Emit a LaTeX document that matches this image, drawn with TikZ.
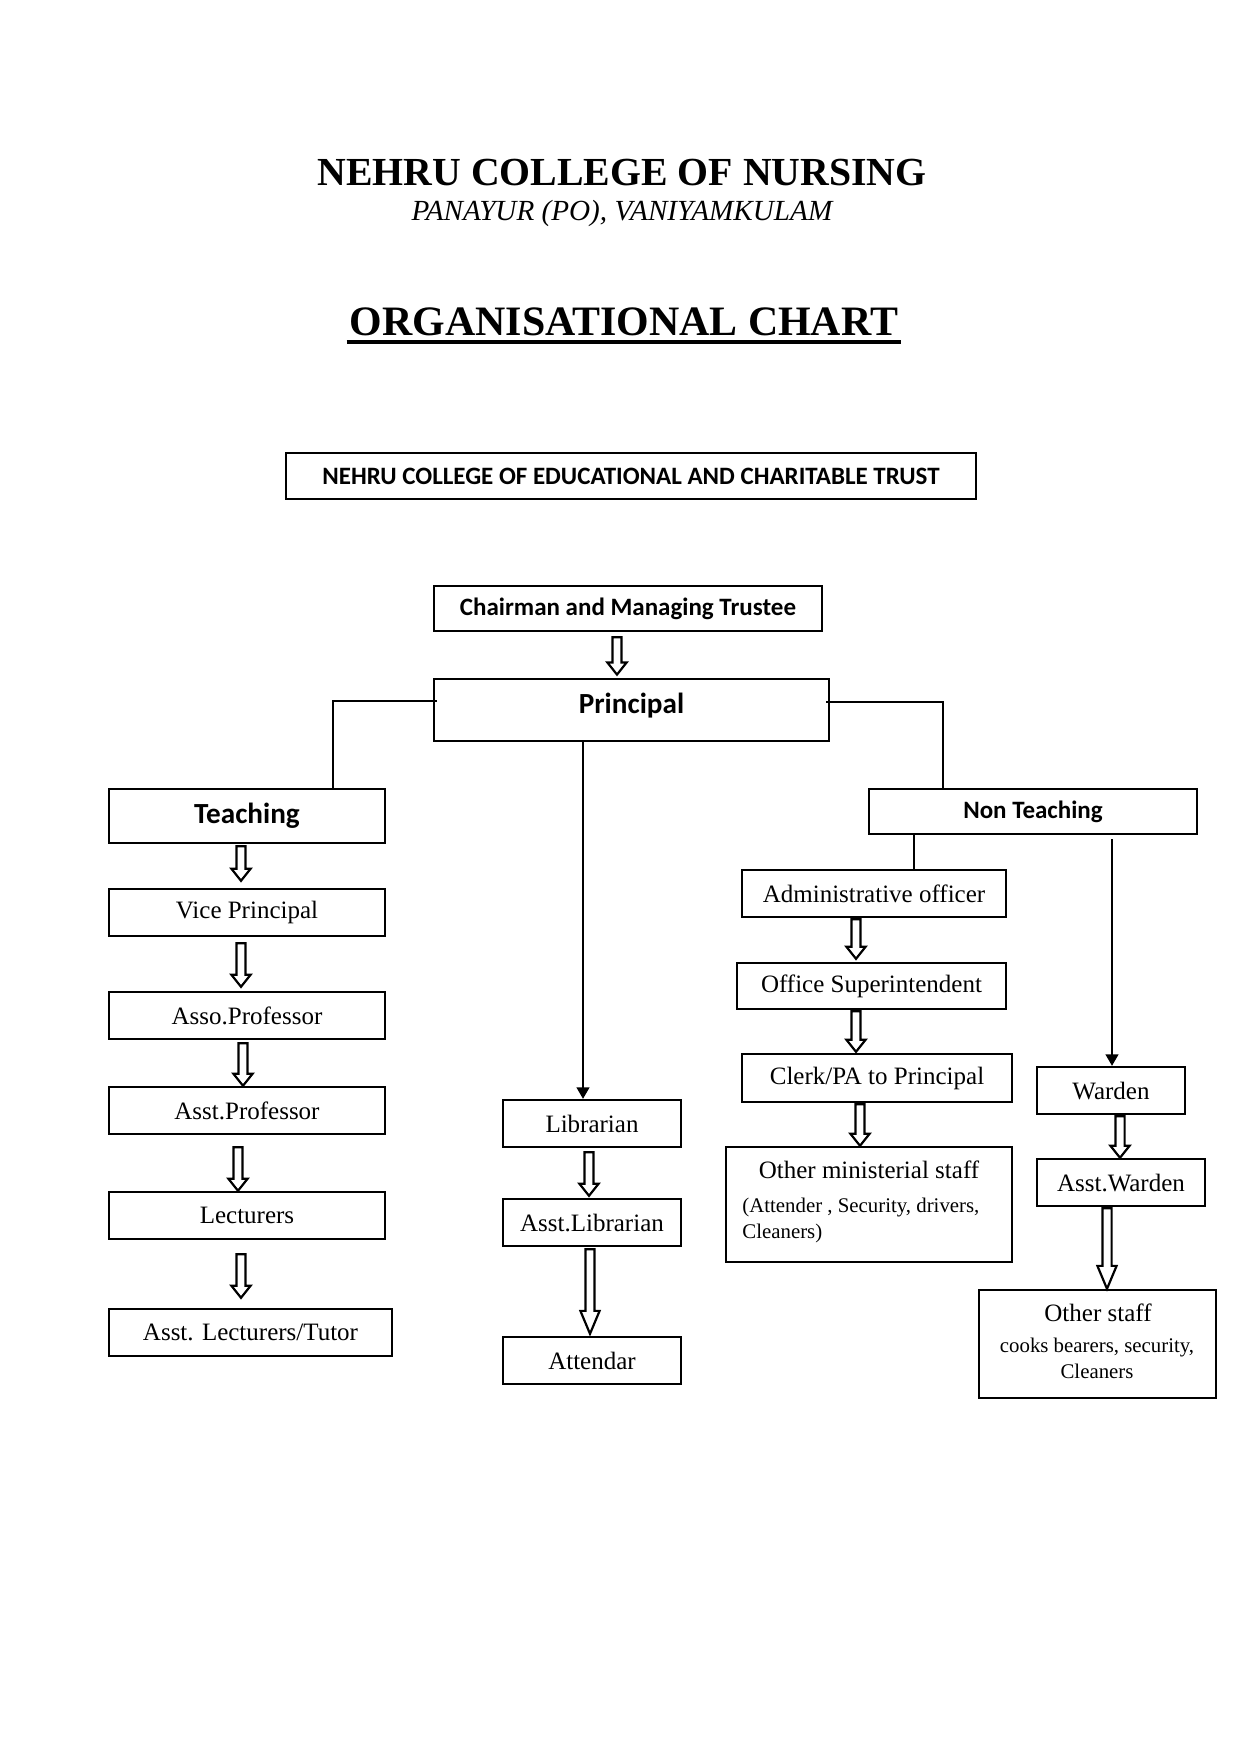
\documentclass[tikz,border=0pt]{standalone}
\usepackage{fontspec}
\setmainfont{Liberation Serif}
\newfontfamily\calib{Carlito}
\usetikzlibrary{calc,arrows.meta}
\newcommand\pxu{0.48pt}
% hollow block arrow: from, to, dx, top gap, bottom gap, head length (pt)
\newcommand\harrow[6]{%
  \draw[harr] let \p1=($(#1.south)+(#3,#4)$), \p2=($(#2.north)+(#3,-#5)$) in
    (\x1-2.2pt,\y1) -- (\x1-2.2pt,\y2+#6) -- (\x1-4.6pt,\y2+#6) -- (\x1,\y2)
    -- (\x1+4.6pt,\y2+#6) -- (\x1+2.2pt,\y2+#6) -- (\x1+2.2pt,\y1) -- cycle;}
\begin{document}
\begin{tikzpicture}[x=0.48pt,y=-0.48pt,
  box/.style={draw, line width=1.15pt, inner sep=0pt},
  sz/.style 2 args={minimum width=#1*\pxu, minimum height=#2*\pxu},
  ser/.style={font=\fontsize{12}{14}\selectfont},
  sers/.style={font=\fontsize{10}{12}\selectfont, inner sep=0pt},
  cal/.style={font=\calib\bfseries\fontsize{12}{14}\selectfont},
  calbig/.style={font=\calib\bfseries\fontsize{14}{16}\selectfont},
  harr/.style={draw, line width=1.05pt, fill=white, line join=miter},
  conn/.style={line width=1.1pt},
  thin/.style={line width=0.65pt, -{Triangle[length=5.5pt,width=6.2pt]}},
  ttl/.style={inner sep=0pt, anchor=base}]
\useasboundingbox (0,0) rectangle (1240,1754);

% titles
\node[ttl, font=\bfseries\fontsize{19.1}{22}\selectfont] (title) at (622,185) {NEHRU COLLEGE OF NURSING};
\node[ttl, font=\itshape\fontsize{14}{16}\selectfont] (sub) at (622,220) {PANAYUR (PO), VANIYAMKULAM};
\node[ttl, font=\bfseries\fontsize{20.1}{22}\selectfont] (org) at (624,335) {ORGANISATIONAL CHART};
\draw[line width=1.7pt] ($(org.base west)+(-3,7)$) -- ($(org.base east)+(3,7)$);

% boxes
\node[box, cal, sz={690}{46}] (trust) at (631,476) {NEHRU COLLEGE OF EDUCATIONAL AND CHARITABLE TRUST};
\node[box, cal, sz={388}{45}] (chair) at (628,608.5) {Chairman and Managing Trustee};
\node[box, calbig, line width=1.35pt, sz={395}{62}] (princ) at (631.5,710) {\raisebox{-1.9pt}[0pt][0pt]{Principal}};

\node[box, calbig, sz={276}{54}] (teach) at (247,816) {Teaching};
\node[box, ser, sz={276}{47}] (vp) at (247,912.5) {Vice Principal};
\node[box, ser, sz={276}{47}] (asso) at (247,1015.5) {Asso.Professor};
\node[box, ser, sz={276}{47}] (asstp) at (247,1110.5) {Asst.Professor};
\node[box, ser, sz={276}{47}] (lect) at (247,1215.5) {Lecturers};
\node[box, ser, sz={283}{47}] (alt) at (250.5,1332.5) {Asst. Lecturers/Tutor};

\node[box, ser, sz={178}{47}] (lib) at (592,1123.5) {Librarian};
\node[box, ser, sz={178}{47}] (alib) at (592,1222.5) {Asst.Librarian};
\node[box, ser, sz={178}{47}] (att) at (592,1360.5) {Attendar};

\node[box, cal, sz={328}{45}] (nont) at (1033,811.5) {Non Teaching};
\node[box, ser, sz={264}{47}] (admin) at (874,893.5) {Administrative officer};
\node[box, ser, sz={269}{46}] (os) at (871.5,986) {Office Superintendent};
\node[box, ser, sz={270}{48}] (clerk) at (877,1078) {Clerk/PA to Principal};
\node[box, sz={286}{115}] (oms) at (869,1204.5) {};
\node[ttl, ser] (omst1) at (869,1178) {Other ministerial staff};
\node[sers, anchor=base west] (omst2) at (742,1212) {(Attender , Security, drivers,};
\node[sers, anchor=base west] (omst3) at (742,1238) {Cleaners)};

\node[box, ser, sz={148}{47}] (warden) at (1111,1090.5) {Warden};
\node[box, ser, sz={168}{47}] (aw) at (1121,1182.5) {Asst.Warden};
\node[box, sz={237}{108}] (ostaff) at (1097.5,1344) {};
\node[ttl, ser] (ost1) at (1098,1321) {Other staff};
\node[sers, anchor=base] (ost2) at (1097,1352) {cooks bearers, security,};
\node[sers, anchor=base] (ost3) at (1097,1378) {Cleaners};

% connectors
\draw[conn] ($(princ.west)+(4,-9)$) -| ($(teach.north)+(86,0)$);
\draw[conn] ($(princ.east)+(-4,-8)$) -| ($(nont.north)+(-90,0)$);
\draw[thin] ($(princ.south)+(-48.5,0)$) -- ($(lib.north)+(-9,0)$);
\draw[conn] ($(nont.south)+(-119,0)$) -- ($(admin.north)+(40,0)$);
\draw[thin] ($(nont.south)+(79,4)$) -- ($(warden.north)+(1,0)$);

% hollow arrows
\harrow{chair}{princ}{-11}{5}{3}{5.8pt}
\harrow{teach}{vp}{-6}{2}{7}{5.8pt}
\harrow{vp}{asso}{-6}{6}{4}{5.8pt}
\harrow{asso}{asstp}{-4}{3}{0}{5.8pt}
\harrow{asstp}{lect}{-9}{12}{0}{5.8pt}
\harrow{lect}{alt}{-6}{14}{10}{5.8pt}
\harrow{lib}{alib}{-3}{4}{2}{5.8pt}
\harrow{alib}{att}{-2}{2}{2}{11pt}
\harrow{admin}{os}{-18}{1}{3}{5.8pt}
\harrow{os}{clerk}{-15.5}{1}{1}{5.8pt}
\harrow{clerk}{oms}{-17}{1}{0}{5.8pt}
\harrow{warden}{aw}{9}{1}{0}{5.8pt}
\harrow{aw}{ostaff}{-14}{1}{0}{11pt}
\end{tikzpicture}
\end{document}
